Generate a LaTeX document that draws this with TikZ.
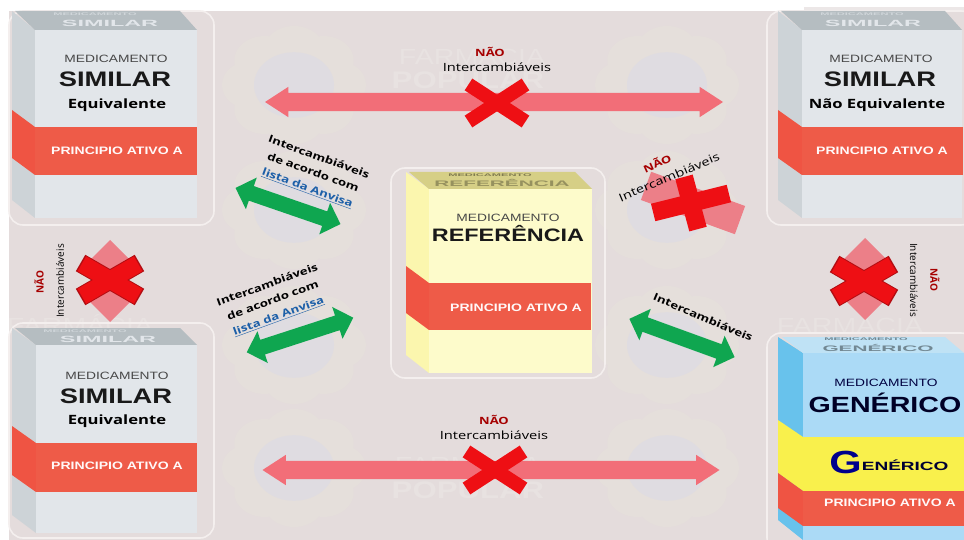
\documentclass[tikz,border=0pt]{standalone}
\usepackage{fontspec}
\setmainfont[FakeStretch=1.3]{Liberation Sans}
\newfontfamily\labelfont[FakeStretch=1.3]{Open Sans}
\newfontfamily\sidefont{Open Sans}
\usetikzlibrary{shapes.arrows,shapes.geometric}
\definecolor{pagebg}{HTML}{E4DCDC}
\definecolor{framecol}{HTML}{F4EFEE}
\definecolor{petal}{HTML}{E5DFDB}
\definecolor{discol}{HTML}{DFDCE1}
\definecolor{markcol}{HTML}{E8E2E1}
\definecolor{bandfront}{HTML}{EE5B48}
\definecolor{bandside}{HTML}{EF5443}
\definecolor{greyfront}{HTML}{E2E6EA}
\definecolor{greyside}{HTML}{CDD3D7}
\definecolor{greytop}{HTML}{B5BDC1}
\definecolor{refront}{HTML}{FDFBCB}
\definecolor{reside}{HTML}{FBF6AE}
\definecolor{retop}{HTML}{D6CF86}
\definecolor{genfront}{HTML}{ABDAF6}
\definecolor{genside}{HTML}{68C2EC}
\definecolor{gentop}{HTML}{BFE2F5}
\definecolor{genyellow}{HTML}{F9F04C}
\definecolor{pinkarrow}{HTML}{F26E78}
\definecolor{pinkblock}{HTML}{EC7F88}
\definecolor{crossred}{HTML}{EE0F14}
\definecolor{crossedge}{HTML}{B30D12}
\definecolor{greenarrow}{HTML}{0FA650}
\definecolor{linkblue}{HTML}{1C5FA8}
\tikzset{
  x=1pt,y=-1pt,
  frame/.style={draw=framecol,line width=1.6pt,rounded corners=14pt},
  boxtitle/.style={font=\fontsize{10.6}{12}\selectfont,text=black!72},
  boxname/.style={font=\bfseries\fontsize{21}{24}\selectfont,text=black!90},
  boxnote/.style={font=\labelfont\bfseries\fontsize{12.8}{15}\selectfont,text=black},
  bandtext/.style={font=\bfseries\fontsize{10.8}{12}\selectfont,text=white!90!pink},
  longred/.style={double arrow,fill=pinkarrow,draw=none,minimum width=30pt,
    inner xsep=0pt,inner ysep=9pt,double arrow head extend=6pt,double arrow tip angle=66},
  greenlink/.style={double arrow,fill=greenarrow,draw=none,minimum width=33pt,
    inner xsep=0pt,inner ysep=7.5pt,double arrow head extend=9pt,double arrow tip angle=90},
  pinkvert/.style={double arrow,fill=pinkblock,draw=none,minimum width=46pt,
    inner xsep=0pt,inner ysep=17pt,double arrow head extend=6pt,double arrow tip angle=90,rotate=90},
  crossbar/.style={fill=crossred,draw=none,inner sep=0pt},
  crossrim/.style={fill=crossedge,draw=none,inner sep=0pt},
  notlabel/.style={font=\labelfont\bfseries\fontsize{10}{12}\selectfont,text=red!65!black},
  swaplabel/.style={font=\labelfont\fontsize{11.3}{12}\selectfont,text=black},
  sidelabel/.style={font=\sidefont\fontsize{10}{12}\selectfont,text=black},
  sidenot/.style={font=\sidefont\bfseries\fontsize{10}{12}\selectfont,text=red!65!black},
  anvisa/.style={font=\labelfont\bfseries\fontsize{10.2}{16.5}\selectfont,text=black,
    align=center,inner sep=0pt},
}
% Box carcass: left edge, front, right edge, top y, front top y, bottom y, three face colours
\newcommand{\boxbody}[9]{%
  \fill[#7] (#1,#4) -- (#2,#5) -- (#2,#6) -- (#1,#6-18) -- cycle;
  \fill[#8] (#1+3,#4) -- (#3-17,#4) -- (#3,#5) -- (#2,#5) -- cycle;
  \fill[#9] (#2,#5) rectangle (#3,#6);
}
% Folded band: left edge, front, right edge, front top, front bottom, rise at the fold
\newcommand{\boxband}[6]{%
  \fill[bandside] (#1,#4-#6) -- (#2,#4) -- (#2,#5) -- (#1,#5-#6) -- cycle;
  \fill[bandfront] (#2,#4) rectangle (#3,#5);
}
% Flattened lettering printed on a box lid
\newcommand{\lidtext}[3]{\scalebox{#2}[#3]{\bfseries #1}}
% Faint seal printed behind the drawing
\newcommand{\seal}[2]{%
  \begin{scope}[shift={(#1,#2)},yscale=0.82]
    \foreach \a in {0,45,...,315}{\fill[petal] (\a:42) circle[radius=30];}
    \fill[discol] (0,0) circle[radius=40];
  \end{scope}
}
\begin{document}
\begin{tikzpicture}
\useasboundingbox (0,0) rectangle (964,540);
\fill[white] (0,0) rectangle (964,540);
\fill[pagebg] (9,11) rectangle (964,540);
\fill[pagebg!70!white] (804,7) rectangle (964,11);

% seals and faint lettering
\seal{294}{85}\seal{667}{85}
\seal{294}{210}\seal{667}{210}
\seal{294}{345}\seal{667}{345}
\seal{294}{468}\seal{667}{468}
\node[text=markcol,font=\fontsize{22}{24}\selectfont] (markA) at (472,55) {FARMÁCIA};
\node[text=markcol,font=\bfseries\fontsize{24}{26}\selectfont] (markB) at (468,80) {POPULAR};
\node[text=markcol,font=\fontsize{22}{24}\selectfont] (markC) at (468,463) {FARMÁCIA};
\node[text=markcol,font=\bfseries\fontsize{24}{26}\selectfont] (markD) at (468,490) {POPULAR};
\node[text=markcol,font=\fontsize{22}{24}\selectfont] (markE) at (850,324) {FARMÁCIA};
\node[text=markcol,font=\fontsize{22}{24}\selectfont] (markF) at (80,324) {FARMÁCIA};

% frames
\draw[frame] (9,11) rectangle (214,225);
\draw[frame] (767,11) rectangle (975,225);
\draw[frame] (9,323) rectangle (214,538);
\draw[frame] (391,168) rectangle (605,378);
\draw[frame] (767,333) rectangle (975,552);

% top-left box
\boxbody{12}{35}{197}{11}{30}{218}{greyside}{greytop}{greyfront}
\boxband{12}{35}{197}{127}{175}{17}
\node[text=greyfront!60!greytop,inner sep=0pt] (tlA) at (95,14.5) {\lidtext{\fontsize{8.5}{9}\selectfont MEDICAMENTO}{1}{0.45}};
\node[text=greyfront,inner sep=0pt] (tlB) at (110,23) {\lidtext{\fontsize{18}{19}\selectfont SIMILAR}{1}{0.5}};
\node[boxtitle] (tlC) at (116,59) {MEDICAMENTO};
\node[boxname] (tlD) at (115,79) {SIMILAR};
\node[boxnote] (tlE) at (117,105) {Equivalente};
\node[bandtext] (tlF) at (117,151) {PRINCIPIO ATIVO A};

% top-right box
\boxbody{778}{802}{962}{11}{30}{218}{greyside}{greytop}{greyfront}
\boxband{778}{802}{963}{127}{175}{17}
\node[text=greyfront!60!greytop,inner sep=0pt] (trA) at (862,14.5) {\lidtext{\fontsize{8.5}{9}\selectfont MEDICAMENTO}{1}{0.45}};
\node[text=greyfront,inner sep=0pt] (trB) at (873,23) {\lidtext{\fontsize{18}{19}\selectfont SIMILAR}{1}{0.5}};
\node[boxtitle] (trC) at (881,59) {MEDICAMENTO};
\node[boxname] (trD) at (880,79) {SIMILAR};
\node[boxnote] (trE) at (877,105) {Não Equivalente};
\node[bandtext] (trF) at (882,151) {PRINCIPIO ATIVO A};

% bottom-left box
\boxbody{12}{36}{197}{328}{345}{533}{greyside}{greytop}{greyfront}
\boxband{12}{36}{197}{443}{492}{17}
\node[text=greyfront!60!greytop,inner sep=0pt] (blA) at (85,331) {\lidtext{\fontsize{8.5}{9}\selectfont MEDICAMENTO}{1}{0.45}};
\node[text=greyfront,inner sep=0pt] (blB) at (108,339.5) {\lidtext{\fontsize{18}{19}\selectfont SIMILAR}{1}{0.5}};
\node[boxtitle] (blC) at (117,376) {MEDICAMENTO};
\node[boxname] (blD) at (116,396) {SIMILAR};
\node[boxnote] (blE) at (117,421) {Equivalente};
\node[bandtext] (blF) at (117,466) {PRINCIPIO ATIVO A};

% central reference box
\boxbody{406}{429}{592}{172}{189}{373}{reside}{retop}{refront}
\boxband{406}{429}{591}{283}{330}{17}
\node[text=retop!60!black,inner sep=0pt] (ctA) at (490,175) {\lidtext{\fontsize{8.5}{9}\selectfont MEDICAMENTO}{1}{0.45}};
\node[text=retop!70!black,inner sep=0pt] (ctB) at (502,183) {\lidtext{\fontsize{16}{17}\selectfont REFERÊNCIA}{1}{0.5}};
\node[boxtitle] (ctC) at (508,218) {MEDICAMENTO};
\node[font=\bfseries\fontsize{18}{22}\selectfont,text=black!90] (ctD) at (508,234) {REFERÊNCIA};
\node[bandtext] (ctE) at (516,308) {PRINCIPIO ATIVO A};

% generic box
\fill[genside] (778,337) -- (803,353) -- (803,540) -- (778,520) -- cycle;
\fill[gentop] (782,337) -- (945,337) -- (964,353) -- (803,353) -- cycle;
\fill[genfront] (803,353) rectangle (964,540);
\fill[genyellow] (778,420) -- (803,437) -- (803,491) -- (778,473) -- cycle;
\fill[genyellow] (803,437) rectangle (964,491);
\boxband{778}{803}{964}{491}{526}{18}
\node[text=gentop!60!black,inner sep=0pt] (gnA) at (866,339.5) {\lidtext{\fontsize{8.5}{9}\selectfont MEDICAMENTO}{1}{0.45}};
\node[text=gentop!60!black,inner sep=0pt] (gnB) at (878,347.5) {\lidtext{\fontsize{16}{17}\selectfont GENÉRICO}{1}{0.5}};
\node[boxtitle,text=black!75!blue] (gnC) at (886,383) {MEDICAMENTO};
\node[font=\bfseries\fontsize{22}{24}\selectfont,text=black!85!blue] (gnD) at (885,403) {GENÉRICO};
\node[inner sep=0pt] (gnE) at (889,462) {\textcolor{blue!55!black}{\bfseries\fontsize{32}{33}\selectfont G}\raisebox{3pt}{\textcolor{black!80!blue}{\scalebox{1.22}[1]{\bfseries\fontsize{12}{14}\selectfont ENÉRICO}}}};
\node[bandtext] (gnF) at (890,503) {PRINCIPIO ATIVO A};

% not-interchangeable links
\node[longred,minimum height=458pt] (arrowTop) at (494,102) {};
\node[longred,minimum height=457pt] (arrowBottom) at (491,470) {};
\node[crossbar,minimum width=68pt,minimum height=14pt,rotate=33] (xTopA) at (497,103) {};
\node[crossbar,minimum width=68pt,minimum height=14pt,rotate=-33] (xTopB) at (497,103) {};
\node[crossbar,minimum width=68pt,minimum height=14pt,rotate=33] (xBotA) at (495,470) {};
\node[crossbar,minimum width=68pt,minimum height=14pt,rotate=-33] (xBotB) at (495,470) {};

\node[pinkvert,minimum height=82pt] (arrowLeft) at (110,281) {};
\node[pinkvert,minimum height=82pt] (arrowRight) at (865,279) {};
\node[crossrim,minimum width=68pt,minimum height=19pt,rotate=30] (xLeftRimA) at (110,280) {};
\node[crossrim,minimum width=68pt,minimum height=19pt,rotate=-30] (xLeftRimB) at (110,280) {};
\node[crossbar,minimum width=65pt,minimum height=17pt,rotate=30] (xLeftA) at (110,280) {};
\node[crossbar,minimum width=65pt,minimum height=17pt,rotate=-30] (xLeftB) at (110,280) {};
\node[crossrim,minimum width=68pt,minimum height=19pt,rotate=30] (xRightRimA) at (864,281) {};
\node[crossrim,minimum width=68pt,minimum height=19pt,rotate=-30] (xRightRimB) at (864,281) {};
\node[crossbar,minimum width=65pt,minimum height=17pt,rotate=30] (xRightA) at (864,281) {};
\node[crossbar,minimum width=65pt,minimum height=17pt,rotate=-30] (xRightB) at (864,281) {};

\node[fill=pinkblock,minimum width=100pt,minimum height=30pt,inner sep=0pt,rotate=-20] (blockDiag) at (693,203) {};
\node[crossbar,minimum width=78pt,minimum height=18pt,rotate=14] (plusA) at (691,203) {};
\node[crossbar,minimum width=54pt,minimum height=18pt,rotate=-75] (plusB) at (691,203) {};

% interchangeable links
\node[greenlink,minimum height=111pt,rotate=-19] (greenA) at (288,206) {};
\node[greenlink,minimum height=112pt,rotate=18] (greenB) at (300,335) {};
\node[greenlink,minimum height=112pt,rotate=-20] (greenC) at (682,338) {};

% link captions
\node[notlabel] (capTopA) at (490,52) {NÃO};
\node[swaplabel] (capTopB) at (497,67) {Intercambiáveis};
\node[notlabel] (capBotA) at (494,420) {NÃO};
\node[swaplabel] (capBotB) at (494,435) {Intercambiáveis};
\node[sidenot,rotate=90] (capLeftA) at (39,282) {NÃO};
\node[sidelabel,rotate=90] (capLeftB) at (60,281) {Intercambiáveis};
\node[sidenot,rotate=-90] (capRightA) at (935,280) {NÃO};
\node[sidelabel,rotate=-90] (capRightB) at (914,280) {Intercambiáveis};
\node[notlabel,rotate=24] (capDiagA) at (657,163) {NÃO};
\node[swaplabel,rotate=23] (capDiagB) at (669,177) {Intercambiáveis};
\node[anvisa,rotate=-20] (capA) at (313,173) {Intercambiáveis\\de acordo com\\\textcolor{linkblue}{\underline{lista da Anvisa}}};
\node[anvisa,rotate=20] (capB) at (273,301) {Intercambiáveis\\de acordo com\\\textcolor{linkblue}{\underline{lista da Anvisa}}};
\node[anvisa,rotate=-23] (capC) at (703,317) {Intercambiáveis};
\end{tikzpicture}
\end{document}
